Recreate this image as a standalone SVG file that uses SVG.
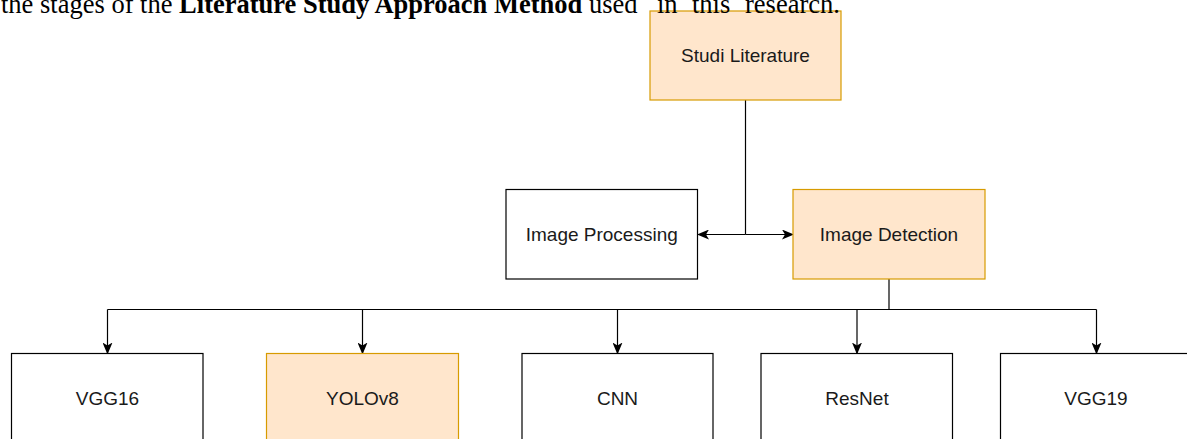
<svg xmlns="http://www.w3.org/2000/svg" width="1187" height="439" viewBox="0 0 1187 439">
  <style>
    .box { fill: #ffffff; stroke: #000000; stroke-width: 1.2; }
    .hl { fill: #ffe6cc; stroke: #d79b00; stroke-width: 1.2; }
    .lbl { font-family: "Liberation Sans", Arial, Helvetica, sans-serif; font-size: 19px; fill: #1a1a1a; text-anchor: middle; }
    .edge { fill: none; stroke: #000000; stroke-width: 1.2; }
    .cap { font-family: "Liberation Serif", "Times New Roman", serif; font-size: 26.5px; fill: #000000; }
  </style>
  <defs>
    <marker id="arr" viewBox="0 0 12 10" refX="11" refY="5" markerWidth="12" markerHeight="10" markerUnits="userSpaceOnUse" orient="auto">
      <path d="M0,0 L12,5 L0,10 L3,5 Z" fill="#000000"/>
    </marker>
  </defs>

  <g id="connectors">
    <path class="edge" d="M745.5,100 L745.5,234.5"/>
    <path class="edge" d="M745.5,234.5 L698,234.5" marker-end="url(#arr)"/>
    <path class="edge" d="M745.5,234.5 L793,234.5" marker-end="url(#arr)"/>
    <path class="edge" d="M889,279 L889,309.5"/>
    <path class="edge" d="M107.5,309.5 L1096.5,309.5"/>
    <path class="edge" d="M107.5,309.5 L107.5,353.5" marker-end="url(#arr)"/>
    <path class="edge" d="M362.5,309.5 L362.5,353.5" marker-end="url(#arr)"/>
    <path class="edge" d="M617.5,309.5 L617.5,353.5" marker-end="url(#arr)"/>
    <path class="edge" d="M857,309.5 L857,353.5" marker-end="url(#arr)"/>
    <path class="edge" d="M1096.5,309.5 L1096.5,353.5" marker-end="url(#arr)"/>
  </g>

  <g id="studi-literature">
    <rect class="hl" x="650" y="11" width="191" height="89"/>
    <text class="lbl" x="745.5" y="61.5">Studi Literature</text>
  </g>
  <g id="image-processing">
    <rect class="box" x="506" y="189.5" width="191.5" height="89.5"/>
    <text class="lbl" x="601.75" y="240.5">Image Processing</text>
  </g>
  <g id="image-detection">
    <rect class="hl" x="793" y="189.5" width="192" height="89.5"/>
    <text class="lbl" x="889" y="240.5">Image Detection</text>
  </g>
  <g id="vgg16">
    <rect class="box" x="11.5" y="353.5" width="191.5" height="90"/>
    <text class="lbl" x="107.5" y="404.5">VGG16</text>
  </g>
  <g id="yolov8">
    <rect class="hl" x="266.5" y="353.5" width="192" height="90"/>
    <text class="lbl" x="362.5" y="404.5">YOLOv8</text>
  </g>
  <g id="cnn">
    <rect class="box" x="522" y="353.5" width="191" height="90"/>
    <text class="lbl" x="617.5" y="404.5">CNN</text>
  </g>
  <g id="resnet">
    <rect class="box" x="761" y="353.5" width="191.5" height="90"/>
    <text class="lbl" x="857" y="404.5">ResNet</text>
  </g>
  <g id="vgg19">
    <rect class="box" x="1000.5" y="353.5" width="191.5" height="90"/>
    <text class="lbl" x="1096" y="404.5">VGG19</text>
  </g>

  <text class="cap" x="1" y="13">the stages of the <tspan font-weight="bold">Literature Study Approach Method</tspan> used <tspan x="657">in</tspan> <tspan x="692">this</tspan> <tspan x="745">research.</tspan></text>
</svg>
